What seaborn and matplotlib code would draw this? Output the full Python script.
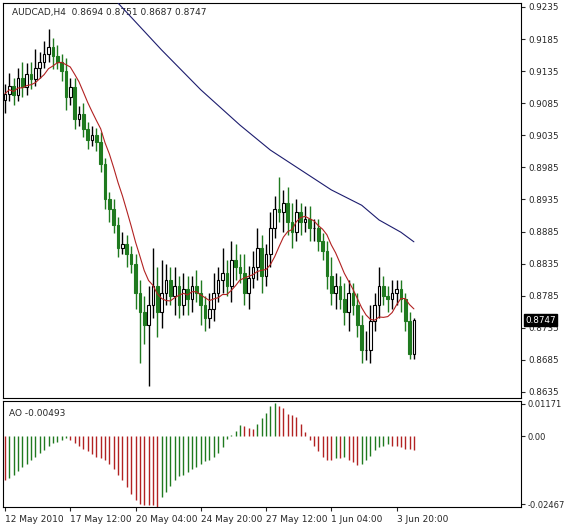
import numpy as np
import pandas as pd
import matplotlib
matplotlib.use("Agg")
import matplotlib.pyplot as plt
import seaborn as sns

sns.set_style("white")
plt.rcParams['font.family'] = ['DejaVu Sans']

# closes (4h candles)
closes = [0.9100, 0.9112, 0.9098, 0.9125, 0.9110, 0.9130, 0.9122, 0.9140, 0.9150, 0.9162,
          0.9172, 0.9158, 0.9150, 0.9135, 0.9095, 0.9110, 0.9060, 0.9068, 0.9045, 0.9028,
          0.9035, 0.9025, 0.8990, 0.8935, 0.8920, 0.8895, 0.8860, 0.8865, 0.8850, 0.8835,
          0.8790, 0.8760, 0.8740, 0.8770, 0.8800, 0.8760, 0.8790, 0.8810, 0.8785, 0.8800,
          0.8770, 0.8795, 0.8780, 0.8800, 0.8790, 0.8770, 0.8750, 0.8765, 0.8790, 0.8810,
          0.8820, 0.8800, 0.8840, 0.8830, 0.8820, 0.8790, 0.8812, 0.8830, 0.8860, 0.8815,
          0.8850, 0.8890, 0.8920, 0.8915, 0.8930, 0.8900, 0.8885, 0.8915, 0.8900, 0.8905,
          0.8890, 0.8890, 0.8870, 0.8855, 0.8815, 0.8790, 0.8800, 0.8780, 0.8760, 0.8790,
          0.8770, 0.8740, 0.8700, 0.8700, 0.8745, 0.8770, 0.8800, 0.8785, 0.8780, 0.8790,
          0.8795, 0.8780, 0.8745, 0.8694, 0.8747]
first_open = 0.9090
# wick lengths in pips above / below the body
wick_up = [15, 20, 12, 15, 25, 18, 20, 30, 15, 20, 28, 15, 18, 12, 20, 15, 15, 12, 18, 10,
           15, 12, 15, 10, 12, 15, 12, 20, 15, 12, 15, 20, 25, 30, 60, 30, 50, 25, 20, 30,
           15, 25, 20, 15, 25, 20, 15, 25, 30, 20, 40, 20, 30, 25, 20, 30, 20, 25, 30, 20,
           15, 25, 20, 50, 20, 25, 30, 20, 15, 20, 20, 15, 15, 12, 15, 30, 20, 15, 25, 20,
           15, 20, 15, 30, 25, 20, 30, 15, 15, 20, 15, 15, 10, 15, 4]
wick_dn = [20, 12, 15, 10, 15, 12, 15, 10, 15, 10, 12, 20, 12, 15, 20, 12, 15, 10, 12, 15,
           10, 15, 12, 15, 20, 12, 15, 10, 20, 15, 25, 80, 30, 95, 20, 40, 25, 20, 15, 30,
           20, 15, 25, 20, 15, 30, 20, 15, 20, 15, 20, 15, 25, 20, 15, 20, 25, 15, 20, 25,
           15, 20, 15, 15, 30, 20, 25, 15, 20, 15, 20, 20, 15, 15, 20, 20, 25, 15, 20, 30,
           15, 20, 20, 15, 20, 15, 20, 15, 20, 15, 20, 20, 15, 7, 7]
# long moving average, read at a few candles
slow_idx = [26, 36, 45, 54, 61, 68, 75, 82, 86, 91, 94]
slow_val = [0.9241, 0.9168, 0.9106, 0.9051, 0.9012, 0.8981, 0.8950, 0.8926, 0.8903, 0.8884, 0.8869]
# Awesome Oscillator, thousandths
ao = [-16, -15, -14, -12.5, -11, -10, -8.5, -7.5, -6, -5, -3.5, -2.5, -2, -1.5,
      -0.5, -1.5, -2.5, -3.5, -4.5, -5.5, -6.5, -7.5, -8, -8.5, -10, -12, -14, -16, -18.5,
      -21, -23, -24.5, -25, -25, -25, -26.5,
      -22, -20, -18, -16, -14.5, -14, -13, -12, -11, -10, -9, -8.5, -7.5, -6, -4, -1,
      0.5, 2, 4, 3.5, 3, 2.5, 4.5, 6.5, 8.5, 11, 12, 11, 10, 8, 7.5, 7, 4.5, 1.5,
      -1.5, -3.5, -5.5, -7.5, -8.5, -8.5, -8, -8, -7.5, -8.5, -9.5, -10.5,
      -10, -8.5, -7, -5, -4, -3.5, -3, -3.5, -3.5, -4, -4.5, -4.8, -4.93]
xlabels = ["12 May 2010", "17 May 12:00", "20 May 04:00", "24 May 20:00",
           "27 May 12:00", "1 Jun 04:00", "3 Jun 20:00"]
xlabel_idx = [0, 15, 30, 45, 60, 75, 90]

df = pd.DataFrame({"close": closes})
df["open"] = df["close"].shift(1).fillna(first_open)
df["high"] = df[["open", "close"]].max(axis=1) + np.array(wick_up) / 10000
df["low"] = df[["open", "close"]].min(axis=1) - np.array(wick_dn) / 10000
df["ma"] = df["close"].rolling(8, min_periods=1).mean()
df["x"] = np.arange(len(df))
ao = np.array(ao) / 1000

W, H = 564, 528
fig = plt.figure(figsize=(W / 100, H / 100), dpi=100)
fig.patch.set_facecolor("white")
ax = fig.add_axes([3 / W, 1 - 398 / H, 518 / W, 395 / H])
ax2 = fig.add_axes([3 / W, 1 - 507 / H, 518 / W, 106 / H])

bull_edge, bear_col = "black", "#1f7a1f"
for _, r in df.iterrows():
    up = r.close >= r.open
    c = bull_edge if up else bear_col
    ax.vlines(r.x, r.low, r.high, color=c, lw=1)
    lo, hi = min(r.open, r.close), max(r.open, r.close)
    ax.add_patch(plt.Rectangle((r.x - 0.3, lo), 0.6, max(hi - lo, 0.00005),
                               facecolor="white" if up else bear_col, edgecolor=c, lw=0.8, zorder=3))
sns.lineplot(x=df["x"], y=df["ma"], ax=ax, color="#b22222", lw=0.8, zorder=4)
sns.lineplot(x=slow_idx, y=slow_val, ax=ax, color="#1c1c6e", lw=0.8, zorder=4)

xmax = (521 - 5) / 4.35
ax.set_xlim(-0.46, xmax)
ax.set_ylim(0.86256, 0.92412)
ax.yaxis.tick_right()
ticks = [0.9235 - 0.005 * k for k in range(13)]
ax.set_yticks(ticks)
ax.set_yticklabels([f"{t:.4f}" for t in ticks], fontsize=6.3)
ax.set_xticks([])
ax.set_xlabel(""); ax.set_ylabel("")
ax.tick_params(axis="y", length=3, pad=2, direction="out", right=True)
ax.annotate("0.8747", xy=(1, 0.8747), xycoords=("axes fraction", "data"), xytext=(3, 0),
            textcoords="offset points", va="center", fontsize=6.3, color="white",
            bbox=dict(boxstyle="square,pad=0.15", fc="black", ec="black"))
ax.text(0.018, 0.988, "AUDCAD,H4  0.8694 0.8751 0.8687 0.8747", transform=ax.transAxes,
        fontsize=6.5, va="top")

cols = ["#1f7a1f" if i > 0 and ao[i] > ao[i - 1] else "#b22222" for i in range(len(ao))]
ax2.vlines(np.arange(len(ao)), 0, ao, colors=cols, lw=1)
ax2.set_xlim(-0.46, xmax)
ax2.set_ylim(-0.0256, 0.0127)
ax2.yaxis.tick_right()
ax2.set_yticks([0.01171, 0.0, -0.02467])
ax2.set_yticklabels(["0.01171", "0.00", "-0.02467"], fontsize=6.0)
ax2.tick_params(axis="y", length=3, pad=1.5, direction="out", right=True)
ax2.set_xticks(xlabel_idx)
ax2.set_xticklabels(xlabels, fontsize=6.5, ha="left")
ax2.tick_params(axis="x", length=3, pad=3, direction="out", bottom=True)
ax2.text(0.012, 0.92, "AO -0.00493", transform=ax2.transAxes, fontsize=6.5, va="top")

for a in (ax, ax2):
    for s in a.spines.values():
        s.set_color("black"); s.set_linewidth(0.8)

fig.savefig("out.png", dpi=100)
